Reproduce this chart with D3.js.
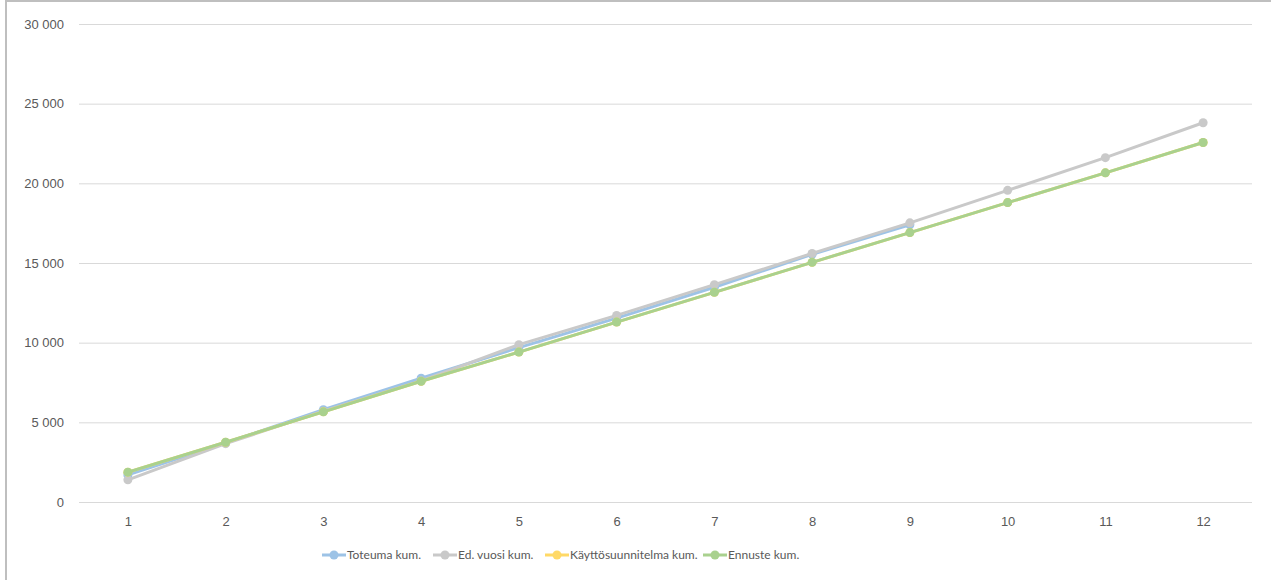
<!DOCTYPE html>
<html>
<head>
<meta charset="utf-8">
<script src="https://cdn.jsdelivr.net/npm/d3@7.9.0/dist/d3.min.js"></script>
<style>
  html, body { margin: 0; padding: 0; background: #fff; }
  svg { display: block; font-family: Lato, "Liberation Sans", sans-serif; }
</style>
</head>
<body>
<svg id="chart" width="1271" height="580"></svg>
<script>
// months on the x axis
const months = [1, 2, 3, 4, 5, 6, 7, 8, 9, 10, 11, 12];
const yTicks = [0, 5000, 10000, 15000, 20000, 25000, 30000];

// cumulative series
const toteuma = [1700, 3700, 5790, 7770, 9690, 11540, 13475, 15550, 17400];
const edVuosi = [1390, 3660, 5700, 7600, 9875, 11710, 13640, 15600, 17520, 19560, 21610, 23800];
const kayttosuunnitelma = [1875, 3750, 5660, 7580, 9410, 11290, 13160, 15040, 16910, 18790, 20660, 22560];
const ennuste = [1875, 3750, 5660, 7580, 9410, 11290, 13160, 15040, 16910, 18790, 20660, 22560];

const seriesNames = ['Toteuma kum.', 'Ed. vuosi kum.', 'Käyttösuunnitelma kum.', 'Ennuste kum.'];
const seriesColors = ['#9dc3e6', '#c9c9c9', '#ffd966', '#a9d18e'];
const series = [toteuma, edVuosi, kayttosuunnitelma, ennuste];

const svg = d3.select('#chart');
const margin = { left: 79, right: 19, top: 24, bottom: 78 };
const W = 1271, H = 580;

// outer chart frame (only left and top edges show in the picture)
svg.append('rect')
  .attr('x', 6).attr('y', 1)
  .attr('width', W + 20).attr('height', H + 20)
  .attr('fill', 'none').attr('stroke', '#bfbfbf').attr('stroke-width', 2);

const x = d3.scalePoint()
  .domain(months)
  .range([margin.left, W - margin.right])
  .padding(0.5);

const y = d3.scaleLinear()
  .domain([0, 30000])
  .range([H - margin.bottom, margin.top]);

const fmt = (v) => d3.format(',')(v).replace(/,/g, ' ');

// gridlines + y labels
const yAxis = d3.axisLeft(y)
  .tickValues(yTicks)
  .tickSize(-(W - margin.right - margin.left))
  .tickPadding(15)
  .tickFormat(fmt);

const gy = svg.append('g')
  .attr('transform', `translate(${margin.left},0)`)
  .call(yAxis);
gy.select('.domain').remove();
gy.selectAll('.tick line').attr('stroke', '#d9d9d9').attr('stroke-width', 1);
gy.selectAll('.tick text')
  .attr('fill', '#595959')
  .style('font-size', '13px');

// x labels
const xAxis = d3.axisBottom(x).tickSize(0).tickPadding(15);
const gx = svg.append('g')
  .attr('transform', `translate(0,${H - margin.bottom})`)
  .call(xAxis);
gx.select('.domain').remove();
gx.selectAll('.tick text')
  .attr('fill', '#595959')
  .style('font-size', '13px');

const line = d3.line()
  .x((d, i) => x(months[i]))
  .y((d) => y(d));

series.forEach((values, si) => {
  const g = svg.append('g');
  g.append('path')
    .datum(values)
    .attr('d', line)
    .attr('fill', 'none')
    .attr('stroke', seriesColors[si])
    .attr('stroke-width', 3)
    .attr('stroke-linejoin', 'round');
  g.selectAll('circle')
    .data(values)
    .join('circle')
    .attr('cx', (d, i) => x(months[i]))
    .attr('cy', (d) => y(d))
    .attr('r', 4.5)
    .attr('fill', seriesColors[si]);
});

// legend
const legendY = 555;
const legendStarts = [322, 433, 545, 703];
const legend = svg.append('g');
seriesNames.forEach((name, i) => {
  const lx = legendStarts[i];
  const item = legend.append('g').attr('transform', `translate(${lx},${legendY})`);
  item.append('line')
    .attr('x1', 0).attr('x2', 24)
    .attr('stroke', seriesColors[i]).attr('stroke-width', 3);
  item.append('circle')
    .attr('cx', 12).attr('r', 4.5)
    .attr('fill', seriesColors[i]);
  item.append('text')
    .attr('x', 25)
    .attr('dy', '0.35em')
    .attr('fill', '#595959')
    .style('font-size', '12px')
    .text(name);
});
</script>
</body>
</html>
